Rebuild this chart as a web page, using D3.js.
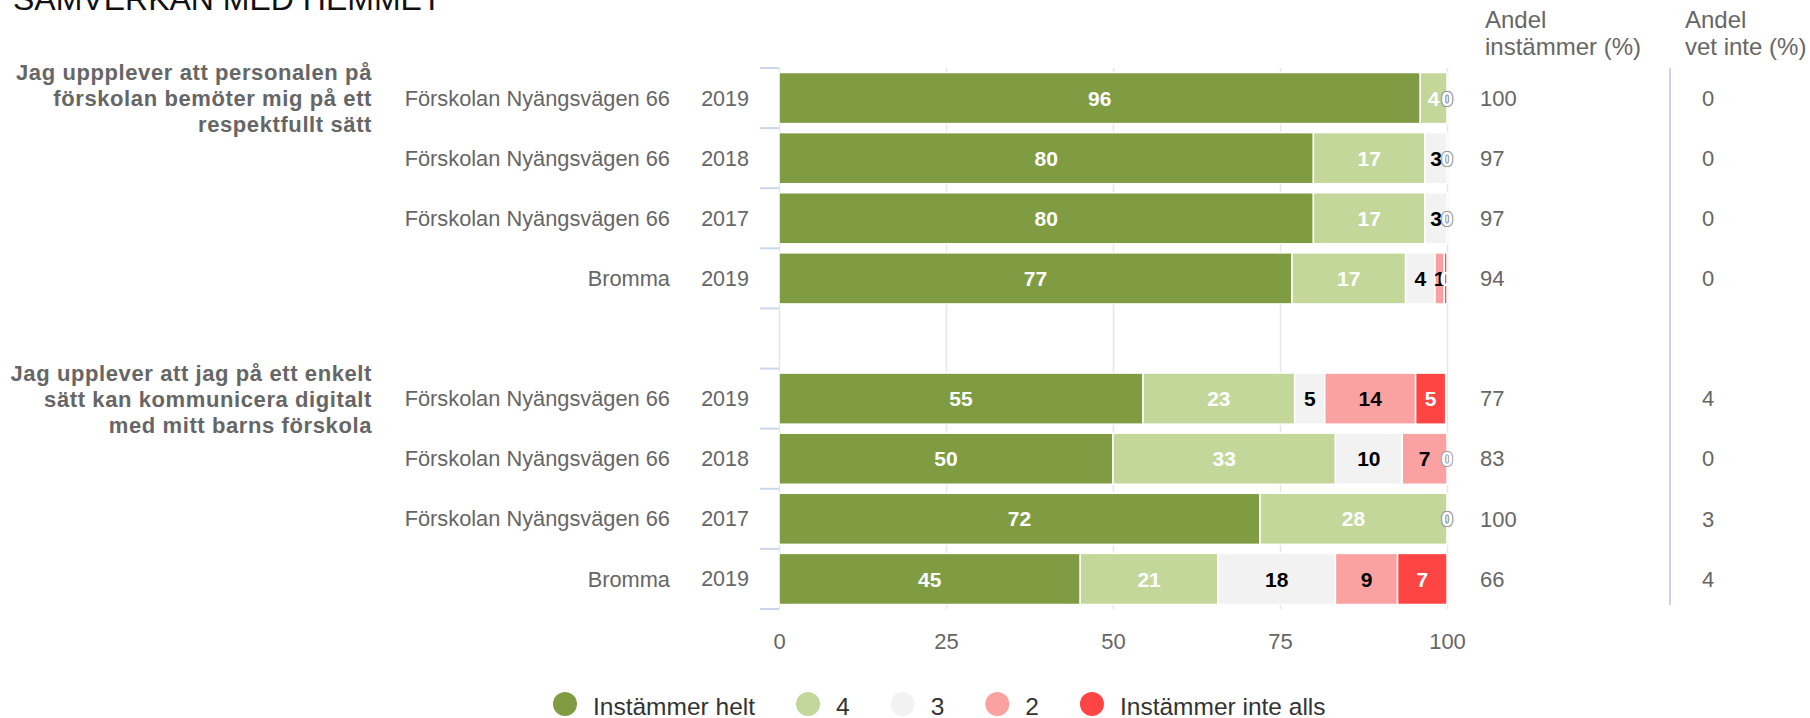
<!DOCTYPE html>
<html>
<head>
<meta charset="utf-8">
<script src="https://cdnjs.cloudflare.com/ajax/libs/d3/7.8.5/d3.min.js"></script>
<style>
  body { margin: 0; background: #fff; }
  svg text { font-family: "Liberation Sans", Arial, sans-serif; }
</style>
</head>
<body>
<svg width="1810" height="718"></svg>
<script>
var questions = [
  ["Jag uppplever att personalen på", "förskolan bemöter mig på ett", "respektfullt sätt"],
  ["Jag upplever att jag på ett enkelt", "sätt kan kommunicera digitalt", "med mitt barns förskola"]
];
var units = ["Förskolan Nyängsvägen 66", "Förskolan Nyängsvägen 66", "Förskolan Nyängsvägen 66", "Bromma"];
var years = ["2019", "2018", "2017", "2019"];

var seriesNames = ["Instämmer helt", "4", "3", "2", "Instämmer inte alls"];
// one value per bar, first question rows 0-3, second question rows 4-7
var instammerHelt     = [96, 80, 80, 76.8, 54.5, 50, 72, 45.1];
var betyg4            = [4, 16.7, 16.7, 17.0, 22.7, 33.3, 28, 20.6];
var betyg3            = [0, 3.3, 3.3, 4.4, 4.5, 10, 0, 17.6];
var betyg2            = [0, 0, 0, 1.4, 13.6, 6.7, 0, 9.3];
var instammerInteAlls = [0, 0, 0, 0.4, 4.5, 0, 0, 7.4];

var andelInstammer = [100, 97, 97, 94, 77, 83, 100, 66];
var andelVetInte   = [0, 0, 0, 0, 4, 0, 3, 4];

var xTicks = [0, 25, 50, 75, 100];

var colors = ["#809c42", "#c4d79b", "#f2f2f2", "#faa2a2", "#ff4444"];
var labelColors = ["#fff", "#fff", "#000", "#000", "#fff"];

var svg = d3.select("svg");

var rows = instammerHelt.map(function(d, i) {
  return {
    key: (i < 4 ? "q0-" : "q1-") + (i % 4),
    idx: i,
    h: instammerHelt[i], b4: betyg4[i], b3: betyg3[i], b2: betyg2[i], ia: instammerInteAlls[i]
  };
});
var keys = ["h", "b4", "b3", "b2", "ia"];
var rowKeys = ["q0-0", "q0-1", "q0-2", "q0-3", "gap", "q1-0", "q1-1", "q1-2", "q1-3"];

var plotTop = 68, plotBottom = 609;
var x = d3.scaleLinear().domain([0, 100]).range([779, 1447]);
var y = d3.scaleBand().domain(rowKeys).range([plotTop, plotBottom]).paddingInner(0.15).paddingOuter(0.075);
var bw = y.bandwidth();

// title (cut off at top)
svg.append("text")
  .attr("x", 13).attr("y", 10)
  .attr("font-size", 32).attr("fill", "#111")
  .text("SAMVERKAN MED HEMMET");

// grid + x axis
var xAxis = svg.append("g")
  .attr("transform", "translate(0," + plotBottom + ")")
  .call(d3.axisBottom(x).tickValues(xTicks).tickSize(-(plotBottom - plotTop)).tickPadding(24));
xAxis.select(".domain").remove();
xAxis.selectAll(".tick line").attr("stroke", "#e6e6e6").attr("stroke-width", 1.5);
xAxis.selectAll(".tick text")
  .attr("font-size", 22).attr("fill", "#666")
  .style("font-family", '"Liberation Sans", Arial, sans-serif');

// y axis ticks at band boundaries
var boundaries = d3.range(rowKeys.length + 1).map(function(i) { return plotTop + i * y.step(); });
svg.append("g").selectAll("line")
  .data(boundaries)
  .enter().append("line")
  .attr("x1", 760).attr("x2", 779)
  .attr("y1", function(d) { return d; }).attr("y2", function(d) { return d; })
  .attr("stroke", "#ccd6eb").attr("stroke-width", 2);

// stacked bars
var stacked = d3.stack().keys(keys)(rows);

svg.append("g").selectAll("g")
  .data(stacked)
  .enter().append("g")
  .attr("fill", function(d, i) { return colors[i]; })
  .selectAll("rect")
  .data(function(d) { return d; })
  .enter().append("rect")
  .attr("x", function(d) { return x(d[0]); })
  .attr("y", function(d) { return y(d.data.key); })
  .attr("width", function(d) { return Math.max(0, x(d[1]) - x(d[0])); })
  .attr("height", bw)
  .attr("stroke", "#fff")
  .attr("stroke-width", 1.5);

// data labels
stacked.forEach(function(s, si) {
  svg.append("g").selectAll("text")
    .data(s)
    .enter().append("text")
    .attr("x", function(d) { return x((d[0] + d[1]) / 2); })
    .attr("y", function(d) { return y(d.data.key) + bw / 2; })
    .attr("dy", "0.36em")
    .attr("text-anchor", "middle")
    .attr("font-size", 21)
    .attr("font-weight", "bold")
    .attr("fill", function(d) { return d.data[s.key] === 0 ? "#fff" : labelColors[si]; })
    .attr("stroke", function(d) { return d.data[s.key] === 0 ? "#999" : "none"; })
    .attr("stroke-width", 2)
    .style("paint-order", "stroke")
    .text(function(d) { return Math.round(d.data[s.key]); });
});

// question labels
questions.forEach(function(lines, qi) {
  var cy = y("q" + qi + "-0") + bw / 2;
  svg.append("g").selectAll("text")
    .data(lines)
    .enter().append("text")
    .attr("x", 372)
    .attr("y", function(d, j) { return cy + 8 + (j - 1) * 26; })
    .attr("text-anchor", "end")
    .attr("font-size", 22)
    .attr("font-weight", "bold")
    .attr("letter-spacing", 0.6)
    .attr("fill", "#666")
    .text(function(d) { return d; });
});

// category labels and right-hand columns
rows.forEach(function(r) {
  var cy = y(r.key) + bw / 2;
  var j = r.idx % 4;
  svg.append("text")
    .attr("x", 670).attr("y", cy).attr("dy", "0.35em")
    .attr("text-anchor", "end").attr("font-size", 21.8).attr("fill", "#666")
    .text(units[j]);
  svg.append("text")
    .attr("x", 749).attr("y", cy).attr("dy", "0.35em")
    .attr("text-anchor", "end").attr("font-size", 21.5).attr("fill", "#666")
    .text(years[j]);
  svg.append("text")
    .attr("x", 1480).attr("y", cy).attr("dy", "0.35em")
    .attr("font-size", 22).attr("fill", "#666")
    .text(andelInstammer[r.idx]);
  svg.append("text")
    .attr("x", 1702).attr("y", cy).attr("dy", "0.35em")
    .attr("font-size", 22).attr("fill", "#666")
    .text(andelVetInte[r.idx]);
});

// column headers
[[1485, ["Andel", "instämmer (%)"]], [1685, ["Andel", "vet inte (%)"]]].forEach(function(h) {
  svg.append("g").selectAll("text")
    .data(h[1])
    .enter().append("text")
    .attr("x", h[0])
    .attr("y", function(d, j) { return 28 + j * 27; })
    .attr("font-size", 24).attr("fill", "#666")
    .text(function(d) { return d; });
});

// separator
svg.append("line")
  .attr("x1", 1670).attr("x2", 1670)
  .attr("y1", plotTop).attr("y2", 605)
  .attr("stroke", "#ccd6eb").attr("stroke-width", 2);

// legend
var legend = svg.append("g");
var lx = 553;
seriesNames.forEach(function(name, i) {
  var item = legend.append("g").attr("transform", "translate(" + lx + ",0)");
  item.append("circle").attr("cx", 12).attr("cy", 704).attr("r", 12).attr("fill", colors[i]);
  var t = item.append("text")
    .attr("x", 40).attr("y", 715)
    .attr("font-size", 24.5).attr("fill", "#333")
    .text(name);
  lx += 40 + t.node().getComputedTextLength() + 41;
});
</script>
</body>
</html>
